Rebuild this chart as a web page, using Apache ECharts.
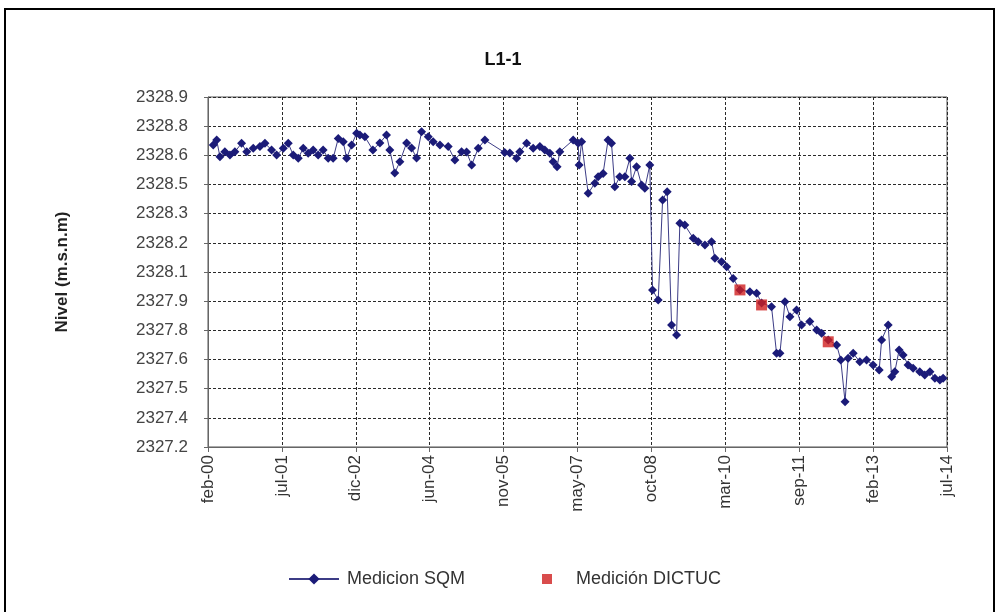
<!DOCTYPE html>
<html>
<head>
<meta charset="utf-8">
<script src="https://cdn.jsdelivr.net/npm/echarts@6/dist/echarts.min.js"></script>
<style>
  html, body { margin: 0; padding: 0; background: #fff; }
  #chart { width: 999px; height: 612px; }
</style>
</head>
<body>
<div id="chart"></div>
<script>
// Pozo L1-1: nivel freático (m.s.n.m)
const fechasSQM = [
  '2000-03-08','2000-04-02','2000-04-25','2000-05-30','2000-07-05','2000-08-10','2000-09-27','2000-11-03','2000-12-19','2001-02-06',
  '2001-03-11','2001-04-28','2001-06-03','2001-07-20','2001-08-25','2001-09-30','2001-11-05','2001-12-10','2002-01-15','2002-02-20',
  '2002-03-25','2002-04-30','2002-06-05','2002-07-10','2002-08-16','2002-09-21','2002-10-15','2002-11-20','2002-12-25',
  '2003-01-18','2003-02-23','2003-04-19','2003-06-08','2003-07-25','2003-08-18','2003-09-23','2003-10-29','2003-12-16','2004-01-21',
  '2004-02-26','2004-04-01','2004-05-18','2004-06-23','2004-08-10','2004-10-08','2004-11-25','2005-01-12','2005-02-17','2005-03-23',
  '2005-05-09','2005-06-26',
  '2005-11-15','2005-12-21','2006-02-08','2006-03-01','2006-04-19','2006-06-05','2006-07-22','2006-08-27','2006-10-02','2006-10-25',
  '2006-11-23','2006-12-12','2007-03-16','2007-04-21','2007-04-28','2007-05-15','2007-07-01','2007-08-18','2007-09-11','2007-10-16',
  '2007-11-21','2007-12-15','2008-01-08','2008-02-13','2008-03-19','2008-04-24','2008-05-06','2008-06-11','2008-07-16','2008-08-09',
  '2008-09-14',
  '2008-10-03','2008-11-13','2008-12-14','2009-01-16','2009-02-17','2009-03-22','2009-04-15','2009-05-20','2009-07-19','2009-08-24',
  '2009-10-11','2009-11-28','2009-12-21','2010-02-08','2010-03-14','2010-04-30',
  '2010-06-17','2010-08-27','2010-10-14','2010-11-19','2011-01-29','2011-03-04','2011-03-28','2011-05-03','2011-06-08','2011-07-25',
  '2011-08-30','2011-10-28','2011-12-16','2012-01-21','2012-03-07','2012-05-06','2012-06-05','2012-07-05','2012-07-27','2012-09-02',
  '2012-10-19','2012-12-06','2013-01-22',
  '2013-03-05','2013-03-22','2013-05-08','2013-06-02','2013-06-25','2013-07-25','2013-08-23','2013-09-28','2013-11-03','2013-12-20',
  '2014-01-25','2014-03-01','2014-04-06','2014-05-11','2014-06-04'
];
const nivelSQM = [
  2328.667, 2328.691, 2328.610, 2328.634, 2328.618, 2328.634, 2328.675, 2328.634, 2328.651, 2328.659,
  2328.675, 2328.643, 2328.618, 2328.651, 2328.675, 2328.618, 2328.602, 2328.651, 2328.627, 2328.643,
  2328.618, 2328.643, 2328.602, 2328.602, 2328.699, 2328.683, 2328.602, 2328.667, 2328.724,
  2328.715, 2328.707, 2328.643, 2328.677, 2328.715, 2328.643, 2328.531, 2328.586, 2328.677, 2328.652,
  2328.604, 2328.731, 2328.707, 2328.683, 2328.667, 2328.659, 2328.594, 2328.634, 2328.633, 2328.570,
  2328.651, 2328.691,
  2328.630, 2328.628, 2328.602, 2328.634, 2328.675, 2328.651, 2328.659, 2328.643, 2328.627, 2328.586,
  2328.561, 2328.634, 2328.691, 2328.675, 2328.570, 2328.683, 2328.432, 2328.481, 2328.513, 2328.529,
  2328.691, 2328.675, 2328.464, 2328.513, 2328.513, 2328.602, 2328.489, 2328.561, 2328.473, 2328.457,
  2328.570,
  2327.963, 2327.914, 2328.400, 2328.440, 2327.793, 2327.744, 2328.287, 2328.278, 2328.214, 2328.197,
  2328.181, 2328.197, 2328.117, 2328.100, 2328.076, 2328.019,
  2327.963, 2327.954, 2327.947, 2327.900, 2327.881, 2327.655, 2327.655, 2327.906, 2327.833, 2327.865,
  2327.793, 2327.809, 2327.768, 2327.752, 2327.720, 2327.696, 2327.623, 2327.420, 2327.631, 2327.655,
  2327.614, 2327.623, 2327.598,
  2327.574, 2327.720, 2327.793, 2327.541, 2327.566, 2327.671, 2327.647, 2327.598, 2327.582, 2327.566,
  2327.550, 2327.566, 2327.534, 2327.525, 2327.534
];
const fechasDICTUC = ['2010-06-17', '2010-11-19', '2012-03-07'];
const nivelDICTUC = [2327.963, 2327.890, 2327.711];

const etiquetasX = ['feb-00','jul-01','dic-02','jun-04','nov-05','may-07','oct-08','mar-10','sep-11','feb-13','jul-14'];
const etiquetasY = ['2327.2','2327.4','2327.5','2327.6','2327.8','2327.9','2328.1','2328.2','2328.3','2328.5','2328.6','2328.8','2328.9'];

// Axis extents: Feb-2000 .. Jul-2014 (173 months), 2327.2 .. 2328.9 m
const MESES_TOTAL = 173;
const Y_MIN = 2327.2, Y_MAX = 2328.9;
const PASO_X = MESES_TOTAL / (etiquetasX.length - 1);
const PASO_Y = (Y_MAX - Y_MIN) / (etiquetasY.length - 1);

// months elapsed since 1 Feb 2000, in axis divisions
function posX(fecha) {
  const [a, m, d] = fecha.split('-').map(Number);
  const meses = (a - 2000) * 12 + (m - 2) + (d - 1) / 30.44;
  return meses / PASO_X;
}
function posY(v) { return (v - Y_MIN) / PASO_Y; }

const datosSQM = fechasSQM.map((f, i) => [posX(f), posY(nivelSQM[i])]);
const datosDICTUC = fechasDICTUC.map((f, i) => [posX(f), posY(nivelDICTUC[i])]);

const FUENTE = '"Liberation Sans", Arial, sans-serif';
const rejilla = { show: true, lineStyle: { color: '#2a2a2a', width: 1, type: [3, 2] } };

const chart = echarts.init(document.getElementById('chart'), null, { renderer: 'canvas' });
chart.setOption({
  animation: false,
  backgroundColor: '#ffffff',
  title: {
    text: 'L1-1',
    left: 498, top: 46, textAlign: 'center',
    textStyle: { fontFamily: '"Liberation Sans Narrow", "Liberation Sans", Arial, sans-serif', fontWeight: 'bold', fontSize: 18, color: '#111' }
  },
  graphic: [{
    type: 'rect', silent: true,
    shape: { x: 5, y: 9, width: 989, height: 640 },
    style: { fill: 'none', stroke: '#000', lineWidth: 2 }
  }],
  grid: { left: 208, right: 52, top: 97, bottom: 165, show: true, borderColor: '#555', borderWidth: 1, containLabel: false },
  legend: [{
    left: 283, top: 565, itemWidth: 50, itemHeight: 14,
    data: ['Medicion SQM'],
    textStyle: { fontFamily: FUENTE, fontSize: 18, color: '#333', padding: [0, 0, 0, 3] }
  }, {
    left: 537, top: 565, itemWidth: 10, itemHeight: 10,
    data: [{ name: 'Medición DICTUC', icon: 'rect' }],
    textStyle: { fontFamily: FUENTE, fontSize: 18, color: '#333', padding: [0, 0, 0, 19] }
  }],
  xAxis: {
    type: 'value', min: 0, max: etiquetasX.length - 1, interval: 1,
    axisLine: { show: true, lineStyle: { color: '#666' } },
    axisTick: { show: true, length: 5, lineStyle: { color: '#666' } },
    axisLabel: {
      rotate: 90, margin: 8, fontFamily: FUENTE, fontSize: 17, color: '#333',
      formatter: v => etiquetasX[Math.round(v)] || ''
    },
    splitLine: rejilla
  },
  yAxis: {
    type: 'value', min: 0, max: etiquetasY.length - 1, interval: 1,
    name: 'Nivel (m.s.n.m)', nameLocation: 'middle', nameRotate: 90, nameGap: 137,
    nameTextStyle: { fontFamily: FUENTE, fontWeight: 'bold', fontSize: 17, color: '#222' },
    axisLine: { show: true, lineStyle: { color: '#666' } },
    axisTick: { show: true, length: 4, lineStyle: { color: '#666' } },
    axisLabel: {
      margin: 20, fontFamily: FUENTE, fontSize: 17, color: '#444',
      formatter: v => etiquetasY[Math.round(v)] || ''
    },
    splitLine: rejilla
  },
  series: [{
    name: 'Medicion SQM', type: 'line', data: datosSQM,
    symbol: 'diamond', symbolSize: 9, showAllSymbol: true,
    lineStyle: { color: '#3c3c86', width: 1 },
    itemStyle: { color: '#1b1b78' }
  }, {
    name: 'Medición DICTUC', type: 'scatter', data: datosDICTUC,
    symbol: 'rect', symbolSize: 11, z: 5,
    itemStyle: { color: '#d01f1f' }
  }]
});
</script>
</body>
</html>
